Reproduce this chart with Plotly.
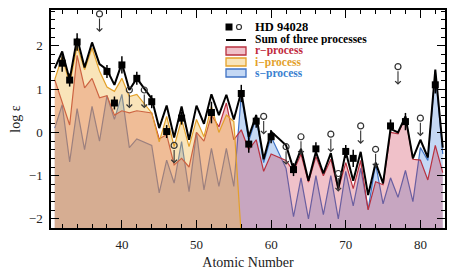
import plotly.graph_objects as go

# ---------------- data ----------------
Z_model = [31, 32, 33, 34, 35, 36, 37, 38, 39, 40, 41, 42,
           44, 45, 46, 47, 48, 49, 50, 51, 52, 53, 54, 55, 56, 57, 58, 59, 60,
           62, 63, 64, 65, 66, 67, 68, 69, 70, 71, 72, 73, 74, 75, 76, 77, 78, 79, 80, 81, 82, 83]

sum_vals = [1.48, 1.87, 1.22, 2.18, 1.5, 2.08, 1.58, 1.45, 1.1, 1.6, 0.98, 1.25,
            0.78, 0.1, 0.62, -0.12, 0.6, -0.17, 0.62, 0.2, 0.88, 0.4, 0.87, 0.3, 0.94, -0.1, 0.4, -0.62, 0.02,
            -0.3, -0.85, -0.38, -1.12, -0.45, -0.95, -0.48, -1.3, -0.45, -1.12, -0.45, -1.45, -0.7, -1.18,
            0.08, 0.0, 0.37, -0.6, -0.17, -0.58, 1.45, -0.35]

r_vals = [1.22, 0.7, 0.17, 1.78, 1.03, 1.25, 0.8, 0.85, 0.4, 0.5, 0.45, 0.5,
          0.45, -0.15, -0.05, -0.75, -0.6, -0.8, 0.0, -0.2, 0.4, 0.13, 0.68, -0.17, 0.06, -0.4, -0.17, -0.9, -0.5,
          -0.65, -0.9, -0.5, -1.15, -0.56, -1.0, -0.62, -1.32, -0.7, -1.3, -0.65, -1.79, -1.14, -1.21,
          0.0, -0.03, 0.35, -0.62, -0.64, -1.1, -0.3, -0.93]

s_vals = [0.1, 0.64, -0.68, 0.55, -0.4, 0.6, -0.2, 0.85, 0.3, 0.88, -0.35, -0.15,
          -0.3, -1.4, -0.64, -1.17, -0.21, -1.37, 0.0, -1.33, -0.37, -1.25, -0.37, -1.25, 0.87, -0.2, 0.35, -0.7, -0.1,
          -0.83, -1.95, -1.05, -2.0, -1.0, -1.9, -1.0, -2.0, -0.9, -1.7, -0.83, -1.78, -0.72, -1.65,
          -1.05, -1.5, -0.88, -1.6, -0.35, -0.65, 1.42, -0.5]

Z_i = [31, 32, 33, 34, 35, 36, 37, 38, 39, 40, 41, 42,
       44, 45, 46, 47, 48, 49, 50, 51, 52, 53, 54, 55, 56]
i_vals = [1.22, 1.75, 1.12, 2.0, 1.45, 1.95, 1.42, 1.05, 0.95, 1.25, 0.83, 0.88,
          0.45, -0.22, 0.37, -0.33, 0.3, -0.33, 0.3, -0.1, 0.6, 0.0, 0.4, 0.25, -2.4]

det_Z = [32, 33, 34, 38, 39, 40, 42, 44, 46, 48, 52, 56, 57, 58, 60, 63, 66, 70, 71, 76, 78, 82]
det_val = [1.6, 1.21, 2.09, 1.41, 0.68, 1.56, 1.25, 0.71, 0.02, 0.33, 0.46, 0.9, -0.27, 0.26, -0.1,
           -0.86, -0.38, -0.44, -0.6, 0.15, 0.25, 1.1]
det_err = [0.2, 0.15, 0.2, 0.15, 0.15, 0.2, 0.15, 0.15, 0.15, 0.15, 0.25, 0.2, 0.2, 0.15, 0.15,
           0.15, 0.15, 0.15, 0.2, 0.15, 0.2, 0.2]

ul_Z = [37, 41, 43, 47, 59, 62, 64, 68, 69, 72, 74, 77, 80]
ul_val = [2.74, 0.98, 0.98, -0.3, 0.37, -0.33, -0.1, -0.04, -0.95, 0.15, -0.39, 1.52, 0.33]

# ---------------- styles ----------------
FLOOR = -3.0
S_LINE, S_FILL = "#3f72c4", "rgba(70,135,220,0.32)"
R_LINE, R_FILL = "#b8303f", "rgba(205,50,75,0.30)"
I_LINE, I_FILL = "#e3a12a", "rgba(240,185,70,0.38)"
FONT = "Liberation Serif"

fig = go.Figure()


def add_process(zs, vals, line_col, fill_col):
    fig.add_trace(go.Scatter(x=zs, y=[FLOOR] * len(zs), mode="lines",
                             line=dict(width=0), hoverinfo="skip", showlegend=False))
    fig.add_trace(go.Scatter(x=zs, y=vals, mode="lines", fill="tonexty",
                             fillcolor=fill_col, line=dict(color=line_col, width=1.2),
                             showlegend=False))


add_process(Z_model, s_vals, S_LINE, S_FILL)
add_process(Z_model, r_vals, R_LINE, R_FILL)
add_process(Z_i, i_vals, I_LINE, I_FILL)

fig.add_trace(go.Scatter(x=Z_model, y=sum_vals, mode="lines",
                         line=dict(color="black", width=2), showlegend=False))

fig.add_trace(go.Scatter(x=det_Z, y=det_val, mode="markers",
                         marker=dict(symbol="square", size=7, color="black"),
                         error_y=dict(type="data", array=det_err, color="black", thickness=1.5, width=0),
                         showlegend=False))

fig.add_trace(go.Scatter(x=ul_Z, y=ul_val, mode="markers",
                         marker=dict(symbol="circle-open", size=6, color="#333333", line=dict(width=1.2)),
                         showlegend=False))

annotations = []
for z, v in zip(ul_Z, ul_val):
    annotations.append(dict(x=z, y=v - 0.42, ax=z, ay=v - 0.07, xref="x", yref="y",
                            axref="x", ayref="y", showarrow=True, arrowhead=4, arrowsize=1,
                            arrowwidth=1.1, arrowcolor="#333333", text=""))

# ---------------- manual legend (page pixel -> paper) ----------------
L, B, W, H = 51, 228, 394, 218


def px(xp):
    return (xp - L) / W


def py(yp):
    return (B - yp) / H


shapes = []
shapes.append(dict(type="rect", xref="paper", yref="paper", x0=px(225.5), x1=px(232.5),
                   y0=py(30.5), y1=py(23.5), fillcolor="black", line=dict(width=0)))
shapes.append(dict(type="circle", xref="paper", yref="paper", x0=px(236.5), x1=px(241.5),
                   y0=py(29.5), y1=py(24.5), fillcolor="white", line=dict(color="#333333", width=1.2)))
shapes.append(dict(type="line", xref="paper", yref="paper", x0=px(226), x1=px(246),
                   y0=py(40), y1=py(40), line=dict(color="black", width=2)))
for yy, fc, lc in [(51, R_FILL, R_LINE), (62, I_FILL, I_LINE), (73, S_FILL, S_LINE)]:
    shapes.append(dict(type="rect", xref="paper", yref="paper", x0=px(226), x1=px(246),
                       y0=py(yy + 4), y1=py(yy - 4), fillcolor=fc, line=dict(color=lc, width=1.3)))

legend_text = [("<b>HD 94028</b>", "black", 27, 12.5), ("<b>Sum of three processes</b>", "black", 39.5, 11.5),
               ("<b>r\u2212process</b>", "#c0283c", 51, 11.5), ("<b>i\u2212process</b>", "#e3a12a", 62, 11.5),
               ("<b>s\u2212process</b>", "#3a7fd0", 73, 11.5)]
for txt, col, yy, fs in legend_text:
    annotations.append(dict(x=px(253), y=py(yy), xref="paper", yref="paper", text=txt,
                            showarrow=False, xanchor="left", yanchor="middle", height=11,
                            font=dict(family=FONT, size=fs, color=col)))

axis_common = dict(showline=True, linecolor="black", linewidth=1.5, mirror="ticks",
                   ticks="inside", tickcolor="black", tickwidth=1.2, showgrid=False, zeroline=False,
                   automargin=False,
                   tickfont=dict(family=FONT, size=13, color="#222"))

# page has an 8px body margin; figure sized so the plot area lands at x 51-445, y 10-228
fig.update_layout(
    width=441, height=263,
    margin=dict(l=43, r=4, t=2, b=43, autoexpand=False),
    plot_bgcolor="white", paper_bgcolor="white",
    xaxis=dict(range=[30.5, 83.3], tickvals=[40, 50, 60, 70, 80], ticklen=8,
               minor=dict(dtick=2, tick0=0, ticks="inside", ticklen=4, tickcolor="black"),
               title=dict(text="Atomic Number", font=dict(family=FONT, size=14, color="#222"), standoff=6),
               ticklabelstandoff=4, **axis_common),
    yaxis=dict(range=[-2.21, 2.83], tickvals=[-2, -1, 0, 1, 2], ticklen=8,
               tickformat="d",
               minor=dict(dtick=0.2, tick0=0, ticks="inside", ticklen=4, tickcolor="black"),
               title=dict(text="log \u03b5", font=dict(family=FONT, size=14, color="#222"), standoff=6),
               ticklabelstandoff=4, **axis_common),
    shapes=shapes,
    annotations=annotations,
    showlegend=False,
)

fig.write_html("out.html")
